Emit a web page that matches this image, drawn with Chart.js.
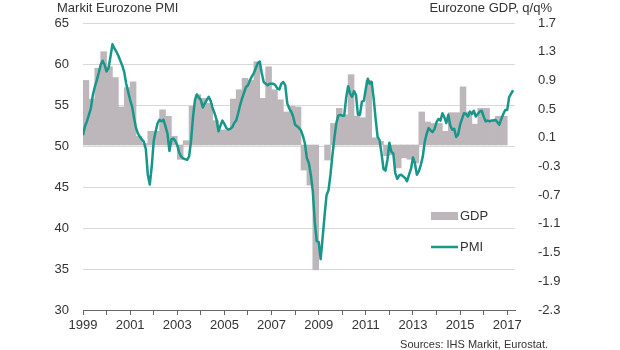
<!DOCTYPE html>
<html>
<head>
<meta charset="utf-8">
<title>Markit Eurozone PMI vs GDP</title>
<script src="https://cdn.jsdelivr.net/npm/chart.js@4.4.1/dist/chart.umd.min.js"></script>
<style>
  body { margin: 0; background: #fff; }
  #wrap { position: relative; width: 620px; height: 350px; font-family: "Liberation Sans", Arial, sans-serif; color: #333; }
  #chart { position: absolute; left: 0; top: 0; }
  .lbl { position: absolute; font-size: 13px; line-height: 15px; white-space: nowrap; }
</style>
</head>
<body>
<div id="wrap">
  <canvas id="chart" width="620" height="350"></canvas>
  <div class="lbl" style="left:57px; top:0px;">Markit Eurozone PMI</div>
  <div class="lbl" style="right:68px; top:0px;">Eurozone GDP, q/q%</div>
  <div class="lbl" style="right:72px; top:338px; font-size:11px; line-height:13px;">Sources: IHS Markit, Eurostat.</div>
</div>
<script>
// first year of both series
const startYear = 1999;

const yearTicks = [1999, 2000, 2001, 2002, 2003, 2004, 2005, 2006, 2007, 2008,
                   2009, 2010, 2011, 2012, 2013, 2014, 2015, 2016, 2017];
const pmiTicks = [30, 35, 40, 45, 50, 55, 60, 65];
const gdpTicks = [-2.3, -1.9, -1.5, -1.1, -0.7, -0.3, 0.1, 0.5, 0.9, 1.3, 1.7];

// GDP q/q %, Q1 1999 .. Q4 2016 (Q1 2009 not drawn in the original)
const gdpQuarterly = [
    0.90, 0.64, 1.07, 1.30,
    1.09, 0.94, 0.53, 0.80,
    0.88, 0.12, 0.02, 0.19,
    0.19, 0.49, 0.40, 0.12,
    -0.20, 0.06, 0.54, 0.70,
    0.65, 0.58, 0.34, 0.21,
    0.21, 0.64, 0.77, 0.93,
    0.90, 1.16, 0.65, 1.09,
    0.77, 0.63, 0.46, 0.54,
    0.53, -0.35, -0.56, -1.74,
    null, -0.21, 0.30, 0.51,
    0.42, 0.98, 0.40, 0.38,
    0.90, 0.10, 0.05, -0.15,
    -0.14, -0.32, -0.18, -0.20,
    -0.25, 0.46, 0.32, 0.30,
    0.30, 0.19, 0.45, 0.45,
    0.81, 0.46, 0.29, 0.51,
    0.51, 0.35, 0.40, 0.40
];

// Composite PMI, monthly, Jan 1999 .. Apr 2017
const pmiMonthly = [
    51.3, 52.4, 53.0, 53.8, 54.6, 56.2, 57.2, 58.0, 58.9, 59.9, 60.4, 59.9,
    59.1, 59.5, 60.9, 62.4, 61.9, 61.5, 61.0, 60.4, 59.8, 59.0, 57.6, 56.6,
    55.6, 54.8, 53.4, 52.2, 51.5, 51.1, 50.8, 50.5, 49.6, 46.5, 45.3, 47.5,
    50.6, 51.8, 52.8, 53.2, 53.0, 53.2, 52.4, 51.5, 49.4, 50.8, 50.9, 50.6,
    50.1, 49.2, 48.7, 48.5, 48.4, 48.3, 48.7, 50.6, 53.5, 55.6, 56.3, 55.9,
    55.6, 54.7, 55.2, 55.6, 56.0, 55.5, 54.6, 54.0, 53.2, 51.8, 52.5, 53.1,
    52.7, 52.2, 52.0, 52.1, 52.3, 52.8, 53.1, 54.0, 55.0, 55.8, 56.5, 57.2,
    57.4, 58.0, 58.5, 58.9, 59.5, 60.1, 60.3, 58.9, 57.8, 57.6, 57.4, 57.6,
    57.6, 57.6, 57.4, 57.0, 56.9, 57.6, 57.8, 57.4, 55.2, 54.6, 54.2, 53.6,
    52.6, 52.4, 52.2, 51.9, 51.2, 50.3, 48.5, 47.9, 46.5, 44.5, 40.8, 38.4,
    38.3, 36.2, 38.8, 41.5, 44.0, 44.6, 46.5, 48.9, 51.0, 52.8, 53.7, 53.8,
    53.7, 53.7, 55.9, 57.3, 56.4, 56.0, 56.7, 56.2, 53.8, 53.8, 55.4, 55.5,
    57.0, 58.2, 57.6, 57.8, 55.8, 53.3, 51.1, 50.7, 49.1, 47.2, 47.0, 48.3,
    50.4, 49.3, 49.1, 46.7, 46.0, 46.4, 46.5, 46.3, 46.1, 45.7, 46.5, 47.2,
    48.6, 47.9, 46.5, 46.9, 47.7, 48.7, 50.5, 51.5, 52.2, 51.9, 51.7, 52.1,
    52.9, 53.3, 53.1, 54.0, 53.5, 52.8, 53.8, 52.5, 52.0, 52.1, 51.1, 51.4,
    52.6, 53.3, 54.0, 53.9, 53.6, 54.2, 53.9, 54.3, 53.6, 53.9, 54.2, 54.3,
    53.6, 53.0, 53.1, 53.0, 53.1, 53.1, 53.2, 52.9, 52.6, 53.3, 53.9, 54.4,
    54.4, 56.0, 56.4, 56.8
];

const teal = '#17978a';
const grey = '#bdb7bb';
const textColor = '#333';

Chart.defaults.font.family = '"Liberation Sans", Arial, sans-serif';
Chart.defaults.font.size = 13;
Chart.defaults.color = textColor;

// bars sit in the middle of their quarter, line points at start of month
const gdpPoints = gdpQuarterly.map((v, i) => ({ x: startYear + i / 4 + 0.125, y: v }));
const pmiPoints = pmiMonthly.map((v, i) => ({ x: startYear + i / 12, y: v }));

// legend drawn inside the plot, lower right
const insideLegend = {
    id: 'insideLegend',
    afterDraw(chart) {
        const ctx = chart.ctx;
        const area = chart.chartArea;
        const x0 = area.right - 84;
        const gdp = chart.data.datasets[1];
        const pmi = chart.data.datasets[0];
        ctx.save();
        ctx.fillStyle = gdp.backgroundColor;
        ctx.fillRect(x0, area.top + 189, 27, 8);
        ctx.strokeStyle = pmi.borderColor;
        ctx.lineWidth = 2.5;
        ctx.beginPath();
        ctx.moveTo(x0, area.top + 224);
        ctx.lineTo(x0 + 27, area.top + 224);
        ctx.stroke();
        ctx.fillStyle = textColor;
        ctx.font = '13px "Liberation Sans", Arial, sans-serif';
        ctx.textBaseline = 'middle';
        ctx.fillText(gdp.label, x0 + 29, area.top + 193);
        ctx.fillText(pmi.label, x0 + 29, area.top + 224);
        ctx.restore();
    }
};

function drawChart() {
    const ctx = document.getElementById('chart').getContext('2d');
    new Chart(ctx, {
        data: {
            datasets: [{
                type: 'line',
                label: 'PMI',
                data: pmiPoints,
                yAxisID: 'yL',
                borderColor: teal,
                borderWidth: 2.5,
                borderJoinStyle: 'round',
                pointRadius: 0,
                tension: 0,
                order: 0
            }, {
                type: 'bar',
                label: 'GDP',
                data: gdpPoints,
                yAxisID: 'yR',
                backgroundColor: grey,
                barPercentage: 1,
                categoryPercentage: 1,
                order: 1
            }]
        },
        options: {
            responsive: false,
            animation: false,
            layout: { padding: { top: 23, left: 0, right: 0, bottom: 0 } },
            plugins: {
                legend: { display: false },
                tooltip: { enabled: false }
            },
            scales: {
                x: {
                    type: 'linear',
                    position: 'bottom',
                    offset: false,
                    min: 1999,
                    max: 2017.33,
                    afterBuildTicks: s => { s.ticks = yearTicks.map(v => ({ value: v })); },
                    afterFit: s => { s.height = 40; },
                    ticks: {
                        autoSkip: false,
                        maxRotation: 0,
                        padding: 3,
                        callback: v => (v % 2 ? String(v) : '')
                    },
                    grid: { offset: false, drawOnChartArea: false, drawTicks: true, tickLength: 5, color: '#666' },
                    border: { color: '#666', width: 1 }
                },
                yL: {
                    position: 'left',
                    min: 30,
                    max: 65,
                    afterBuildTicks: s => { s.ticks = pmiTicks.map(v => ({ value: v })); },
                    afterFit: s => { s.width = 83; },
                    ticks: { padding: 14 },
                    grid: { color: '#d8d8d8', drawTicks: false },
                    border: { display: false }
                },
                yR: {
                    position: 'right',
                    min: -2.3,
                    max: 1.7,
                    afterBuildTicks: s => { s.ticks = gdpTicks.map(v => ({ value: v })); },
                    afterFit: s => { s.width = 105; },
                    ticks: { padding: 15, callback: v => v.toFixed(1) },
                    grid: { display: false },
                    border: { display: false }
                }
            }
        },
        plugins: [insideLegend]
    });
}

document.addEventListener('DOMContentLoaded', drawChart);
</script>
</body>
</html>
